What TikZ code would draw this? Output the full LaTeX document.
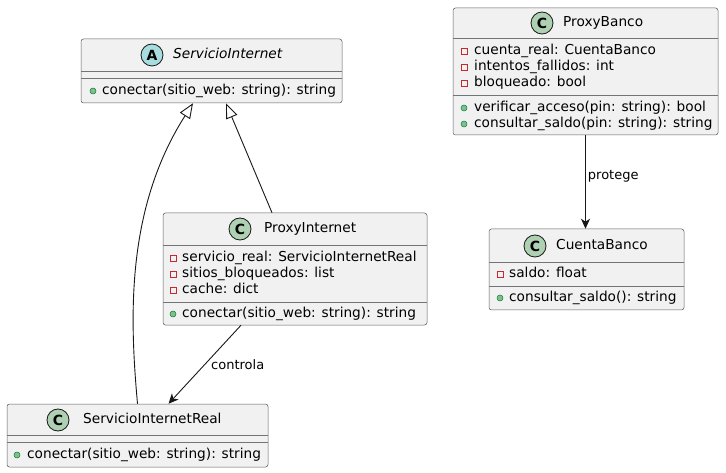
\documentclass[tikz,border=0pt]{standalone}
\usepackage{fontspec}
\setmainfont{DejaVu Sans}
\usetikzlibrary{arrows.meta}

\definecolor{boxfill}{HTML}{F1F1F1}
\definecolor{boxline}{HTML}{181818}
\definecolor{iconC}{HTML}{ADD1B2}
\definecolor{iconA}{HTML}{A9DCDF}
\definecolor{privred}{HTML}{C82930}
\definecolor{pubfill}{HTML}{84BE84}
\definecolor{publine}{HTML}{038048}

\tikzset{
  classbox/.style={draw=boxline!70, fill=boxfill, line width=0.5pt, rounded corners=2.5pt, inner sep=0pt},
  sepline/.style={draw=boxline!60, line width=0.5pt},
  classicon/.style={circle, draw=boxline, line width=0.8pt, minimum size=22pt, inner sep=0pt, font=\fontsize{14}{14}\selectfont\bfseries},
  classtitle/.style={anchor=west, inner sep=0pt, text height=10pt, text depth=3pt, font=\fontsize{13.7}{16}\selectfont},
  member/.style={anchor=west, inner sep=0pt, text height=10pt, text depth=3pt, font=\fontsize{13.7}{16}\selectfont},
  priv/.style={draw=privred, line width=0.7pt, minimum size=6pt, inner sep=0pt},
  pub/.style={circle, draw=publine, fill=pubfill, line width=0.5pt, minimum size=6pt, inner sep=0pt},
  rel/.style={draw=boxline, line width=0.9pt},
  rellabel/.style={anchor=west, inner sep=0pt, font=\fontsize{13}{15}\selectfont}
}

\begin{document}
\begin{tikzpicture}[x=1pt, y=-1pt]
  \useasboundingbox (0,0) rectangle (726,473);

  % ServicioInternet (abstract)
  \node[classbox, minimum width=261pt, minimum height=64pt] (si) at (211.5,71) {};
  \draw[sepline] (81,71) -- (342,71);
  \draw[sepline] (81,78) -- (342,78);
  \node[classicon, fill=iconA] (si-icon) at (152,55) {A};
  \node[classtitle] (si-name) at (173,55) {\itshape ServicioInternet};
  \node[pub] (si-v1) at (93,91) {};
  \node[member] (si-m1) at (102,91) {conectar(sitio\_web: string): string};

  % ProxyInternet
  \node[classbox, minimum width=264pt, minimum height=112pt] (pi) at (295,269) {};
  \draw[sepline] (163,245) -- (427,245);
  \draw[sepline] (163,302) -- (427,302);
  \node[classicon, fill=iconC] (pi-icon) at (240,229) {C};
  \node[classtitle] (pi-name) at (264,229) {ProxyInternet};
  \node[priv] (pi-v1) at (173,258) {};
  \node[member] (pi-a1) at (182,258) {servicio\_real: ServicioInternetReal};
  \node[priv] (pi-v2) at (173,274) {};
  \node[member] (pi-a2) at (182,274) {sitios\_bloqueados: list};
  \node[priv] (pi-v3) at (173,290) {};
  \node[member] (pi-a3) at (182,290) {cache: dict};
  \node[pub] (pi-v4) at (173,314) {};
  \node[member] (pi-m1) at (182,314) {conectar(sitio\_web: string): string};

  % ServicioInternetReal
  \node[classbox, minimum width=261pt, minimum height=63pt] (sir) at (137.5,435.5) {};
  \draw[sepline] (7,435) -- (268,435);
  \draw[sepline] (7,442) -- (268,442);
  \node[classicon, fill=iconC] (sir-icon) at (58,420) {C};
  \node[classtitle] (sir-name) at (83,420) {ServicioInternetReal};
  \node[pub] (sir-v1) at (17,455) {};
  \node[member] (sir-m1) at (27,455) {conectar(sitio\_web: string): string};

  % ProxyBanco
  \node[classbox, minimum width=265pt, minimum height=127pt] (pb) at (585.5,71.5) {};
  \draw[sepline] (453,38) -- (718,38);
  \draw[sepline] (453,95) -- (718,95);
  \node[classicon, fill=iconC] (pb-icon) at (542,23) {C};
  \node[classtitle] (pb-name) at (563,23) {ProxyBanco};
  \node[priv] (pb-v1) at (464,51) {};
  \node[member] (pb-a1) at (474,51) {cuenta\_real: CuentaBanco};
  \node[priv] (pb-v2) at (464,67) {};
  \node[member] (pb-a2) at (474,67) {intentos\_fallidos: int};
  \node[priv] (pb-v3) at (464,83) {};
  \node[member] (pb-a3) at (474,83) {bloqueado: bool};
  \node[pub] (pb-v4) at (464,108) {};
  \node[member] (pb-m1) at (474,108) {verificar\_acceso(pin: string): bool};
  \node[pub] (pb-v5) at (464,124) {};
  \node[member] (pb-m2) at (474,124) {consultar\_saldo(pin: string): string};

  % CuentaBanco
  \node[classbox, minimum width=195pt, minimum height=81pt] (cb) at (586.5,269.5) {};
  \draw[sepline] (489,262) -- (684,262);
  \draw[sepline] (489,286) -- (684,286);
  \node[classicon, fill=iconC] (cb-icon) at (535,246) {C};
  \node[classtitle] (cb-name) at (556,246) {CuentaBanco};
  \node[priv] (cb-v1) at (500,274) {};
  \node[member] (cb-a1) at (509,274) {saldo: float};
  \node[pub] (cb-v2) at (500,298) {};
  \node[member] (cb-m1) at (509,298) {consultar\_saldo(): string};

  % relations
  \draw[rel, -{Triangle[open, length=15pt, width=12pt, fill=white]}]
    (sir.north) .. controls (130,320) and (125,210) .. ([xshift=-18.5pt]si.south);
  \draw[rel, -{Triangle[open, length=15pt, width=12pt, fill=white]}]
    ([xshift=-23pt]pi.north) -- ([xshift=14.5pt]si.south);
  \draw[rel, -{Stealth[length=10pt, width=9pt, inset=3pt]}]
    ([xshift=-54pt]pi.south) -- ([xshift=31pt]sir.north)
    node[pos=0.5, rellabel, xshift=6pt] (lbl-controla) {controla};
  \draw[rel, -{Stealth[length=10pt, width=9pt, inset=3pt]}]
    (pb.south) -- (pb.south |- cb.north)
    node[pos=0.44, rellabel, xshift=2pt] (lbl-protege) {protege};
\end{tikzpicture}
\end{document}
